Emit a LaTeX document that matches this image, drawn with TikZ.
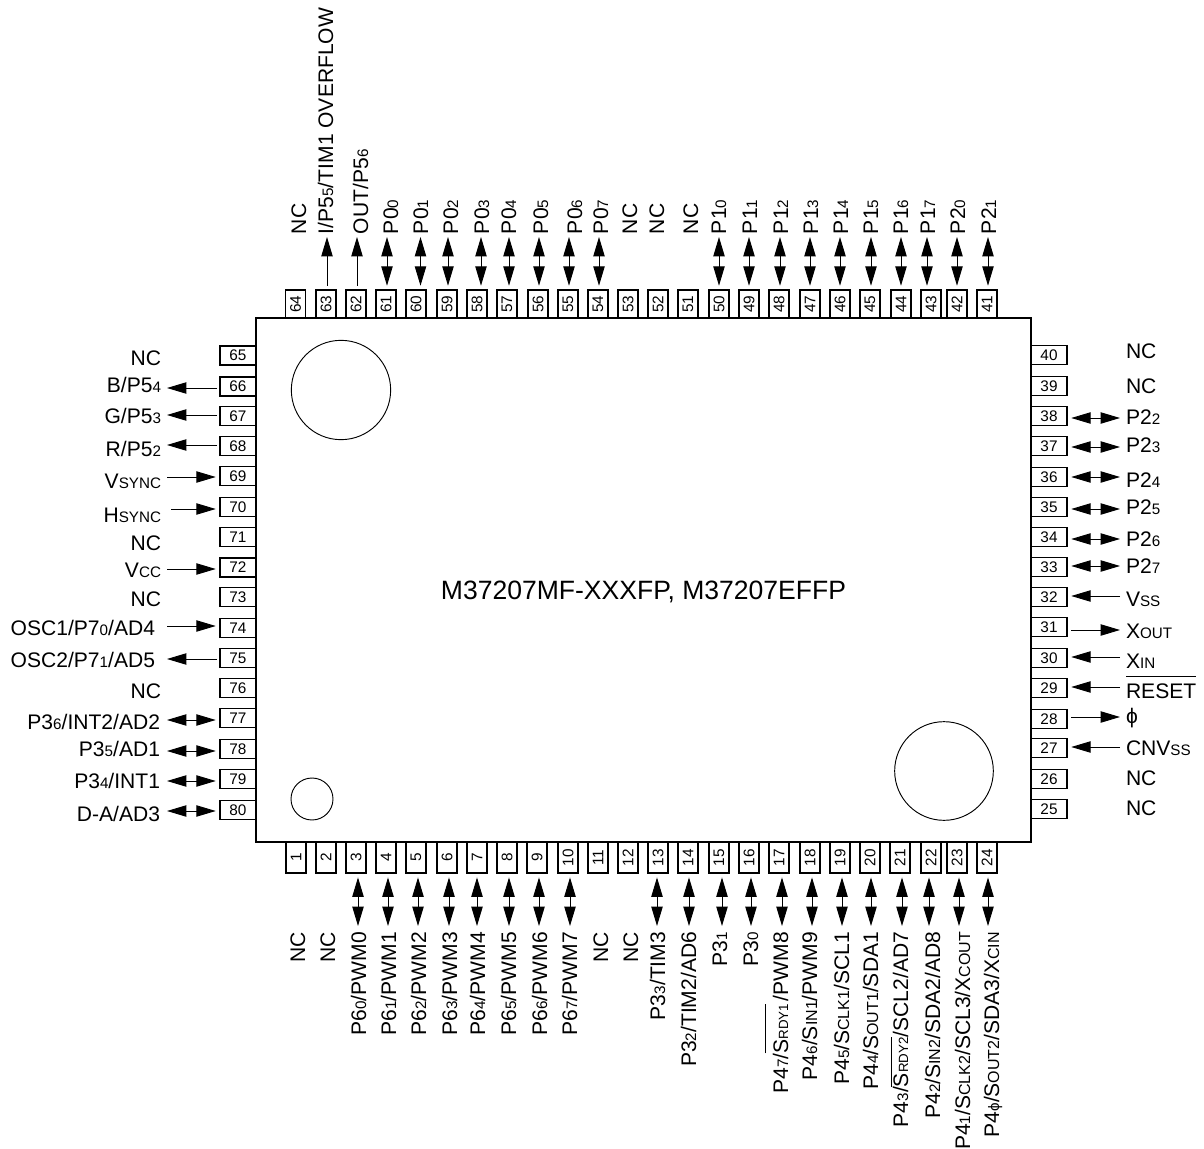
\documentclass[tikz,border=0pt]{standalone}
\usepackage{fontspec}
\usepackage{graphicx}
\setmainfont{Liberation Sans}
\usetikzlibrary{arrows.meta}
\newcommand{\sm}[1]{{\fontsize{11.4}{11.4}\selectfont #1}}
\newcommand{\smm}[1]{{\fontsize{10}{10}\selectfont #1}}
\newcommand{\smb}[1]{{\fontsize{12}{12}\selectfont #1}}
\newcommand{\ovbar}[2]{\setbox0\hbox{#2}\rlap{\rule[#1]{\wd0}{0.6pt}}\box0\relax}
\tikzset{
  x=0.75pt,y=-0.75pt,
  chip/.style={draw,line width=1.5pt,minimum width=581.25pt,minimum height=393pt,inner sep=0,outer sep=0},
  vpin/.style={draw,line width=1.2pt,fill=white,minimum width=15.2pt,minimum height=#1,inner sep=0,outer sep=0,font=\fontsize{11.5}{11.5}\selectfont},
  hpin/.style={draw,line width=1.2pt,fill=white,minimum width=27pt,minimum height=14.4pt,inner sep=0,outer sep=0,font=\fontsize{11.5}{11.5}\selectfont},
  sig/.style={inner sep=0,outer sep=0,font=\fontsize{15.8}{15.8}\selectfont},
  ltxt/.style={sig,anchor=base east},
  rtxt/.style={sig,anchor=base west},
  ttxt/.style={sig,rotate=90,anchor=base west},
  btxt/.style={sig,rotate=90,anchor=base east},
  hole/.style={draw,line width=0.7pt,circle,inner sep=0,outer sep=0},
  wire/.style={line width=0.7pt,shorten <=0pt,shorten >=3.2pt},
  dbl/.style={wire,{Triangle[length=14.5pt,width=8.5pt]}-{Triangle[length=14.5pt,width=8.5pt]}},
  fwd/.style={wire,-{Triangle[length=14.5pt,width=8.5pt]}}
}
\begin{document}
\begin{tikzpicture}
\useasboundingbox (0,0) rectangle (1204,1149);
\node[chip] (body) at (643.5,580) {};
\node[sig,anchor=base] (title) at (643.5,599) {\fontsize{19.9}{19.9}\selectfont M37207MF-XXXFP, M37207EFFP};
\node[hole,minimum size=74.5pt] (h1) at (341,390) {};
\node[hole,minimum size=31.5pt] (h2) at (312,799) {};
\node[hole,minimum size=74pt] (h3) at (944,771) {};
% top pins
\foreach \n/\x in {64/295.5,63/326,62/356,61/386,60/416,59/447,58/477,57/507,56/538,55/568,54/598,53/628,52/658,51/688,50/719,49/749,48/779,47/810,46/840,45/870,44/901,43/931,42/957,41/987}
  \node[vpin=21pt] (p\n) at (\x,304) {\rotatebox{90}{\n}};
% bottom pins
\foreach \n/\x in {1/296,2/326,3/356,4/386,5/416,6/447,7/477,8/507,9/537,10/568,11/598,12/628,13/658,14/688,15/719,16/749,17/779,18/810,19/840,20/870,21/900,22/931,23/957,24/987}
  \node[vpin=23.5pt] (p\n) at (\x,857.5) {\rotatebox{90}{\n}};
% left pins
\foreach \n/\y in {65/355.5,66/386.3,67/416,68/446,69/476,70/507,71/537,72/567.5,73/597,74/628,75/658,76/688,77/718,78/749,79/779,80/810}
  \node[hpin] (p\n) at (238,\y) {\n};
% right pins
\foreach \n/\y in {40/355,39/386,38/416,37/446,36/477,35/507,34/537,33/567,32/597,31/627,30/658,29/688,28/719,27/748,26/779,25/809}
  \node[hpin] (p\n) at (1049,\y) {\n};
% connectors: top
\foreach \n/\x in {61/387,60/420.5,59/448,58/481,57/509,56/539,55/569,54/599,50/719,49/749,48/780,47/810,46/840,45/871,44/901,43/927,42/957,41/988}{
  \coordinate (e\n) at (\x,237);
  \draw[dbl] (e\n) -- (e\n |- p\n.north);
}
\foreach \n/\x in {63/327,62/357}{
  \coordinate (e\n) at (\x,237);
  \draw[fwd,shorten <=3.2pt,shorten >=0pt] (e\n |- p\n.north) -- (e\n);
}
% connectors: bottom
\foreach \n/\x in {3/358,4/388,5/418,6/449,7/477,8/509,9/539,10/570,13/657,14/689,15/722,16/751,17/782,18/812,19/842,20/871,21/902,22/929,23/959,24/988}{
  \coordinate (e\n) at (\x,926);
  \draw[dbl] (e\n) -- (e\n |- p\n.south);
}
% connectors: left
\foreach \n/\y in {77/720,78/751,79/781,80/811}{
  \coordinate (e\n) at (167,\y);
  \draw[dbl] (e\n) -- (e\n -| p\n.west);
}
\foreach \n/\y in {66/388,67/415,68/445,75/659}{
  \coordinate (e\n) at (167,\y);
  \draw[fwd,shorten <=2.2pt,shorten >=0pt] (e\n -| p\n.west) -- (e\n);
}
\foreach \n/\y/\s in {69/477/167,70/509/171,72/569/167,74/626/167}{
  \coordinate (e\n) at (\s,\y);
  \draw[fwd] (e\n) -- (e\n -| p\n.west);
}
% connectors: right
\foreach \n/\y in {38/418,37/447,36/477,35/509,34/539,33/566}{
  \coordinate (e\n) at (1120,\y);
  \draw[dbl] (e\n) -- (e\n -| p\n.east);
}
\foreach \n/\y in {32/596,30/657,29/687,27/747}{
  \coordinate (e\n) at (1120,\y);
  \draw[fwd] (e\n) -- (e\n -| p\n.east);
}
\foreach \n/\y in {31/630,28/717}{
  \coordinate (e\n) at (1120,\y);
  \draw[fwd,shorten <=3.2pt,shorten >=0pt] (e\n -| p\n.east) -- (e\n);
}
% labels: top
\node[ttxt] (t64) at (306,234) {NC};
\node[ttxt] (t63) at (333,234) {I/P5\sm{5}/TIM1 OVERFLOW};
\node[ttxt] (t62) at (368,234) {OUT/P5\sm{6}};
\node[ttxt] (t61) at (398,234) {P0\sm{0}};
\node[ttxt] (t60) at (428,234) {P0\sm{1}};
\node[ttxt] (t59) at (458,234) {P0\sm{2}};
\node[ttxt] (t58) at (489,234) {P0\sm{3}};
\node[ttxt] (t57) at (516,234) {P0\sm{4}};
\node[ttxt] (t56) at (548,234) {P0\sm{5}};
\node[ttxt] (t55) at (582,234) {P0\sm{6}};
\node[ttxt] (t54) at (608,234) {P0\sm{7}};
\node[ttxt] (t53) at (637,234) {NC};
\node[ttxt] (t52) at (664,234) {NC};
\node[ttxt] (t51) at (698,234) {NC};
\node[ttxt] (t50) at (726,234) {P1\sm{0}};
\node[ttxt] (t49) at (757,234) {P1\sm{1}};
\node[ttxt] (t48) at (788,234) {P1\sm{2}};
\node[ttxt] (t47) at (818,234) {P1\sm{3}};
\node[ttxt] (t46) at (848,234) {P1\sm{4}};
\node[ttxt] (t45) at (878,234) {P1\sm{5}};
\node[ttxt] (t44) at (908,234) {P1\sm{6}};
\node[ttxt] (t43) at (935,234) {P1\sm{7}};
\node[ttxt] (t42) at (965,234) {P2\sm{0}};
\node[ttxt] (t41) at (996,234) {P2\sm{1}};
% labels: bottom
\node[btxt] (t1) at (305,932) {NC};
\node[btxt] (t2) at (335,932) {NC};
\node[btxt] (t3) at (366,932) {P6\sm{0}/PWM0};
\node[btxt] (t4) at (396,932) {P6\sm{1}/PWM1};
\node[btxt] (t5) at (426,932) {P6\sm{2}/PWM2};
\node[btxt] (t6) at (457,932) {P6\sm{3}/PWM3};
\node[btxt] (t7) at (485,932) {P6\sm{4}/PWM4};
\node[btxt] (t8) at (516,932) {P6\sm{5}/PWM5};
\node[btxt] (t9) at (547,932) {P6\sm{6}/PWM6};
\node[btxt] (t10) at (577,932) {P6\sm{7}/PWM7};
\node[btxt] (t11) at (608,932) {NC};
\node[btxt] (t12) at (638,932) {NC};
\node[btxt] (t13) at (665,932) {P3\sm{3}/TIM3};
\node[btxt] (t14) at (696,932) {P3\sm{2}/TIM2/AD6};
\node[btxt] (t15) at (727,932) {P3\sm{1}};
\node[btxt] (t16) at (758,932) {P3\sm{0}};
\node[btxt] (t17) at (788,932) {P4\sm{7}/\ovbar{16.5pt}{S\smm{RDY1}}\kern2pt/PWM8};
\node[btxt] (t18) at (817,932) {P4\sm{6}/S\smb{IN1}/PWM9};
\node[btxt] (t19) at (849,932) {P4\sm{5}/S\smb{CLK1}/SCL1};
\node[btxt] (t20) at (878,932) {P4\sm{4}/S\smb{OUT1}/SDA1};
\node[btxt] (t21) at (908,932) {P4\sm{3}/\ovbar{12.5pt}{S\smm{RDY2}}/SCL2/AD7};
\node[btxt] (t22) at (940,932) {P4\sm{2}/S\smb{IN2}/SDA2/AD8};
\node[btxt] (t23) at (970,932) {P4\sm{1}/S\smb{CLK2}/SCL3/X\smb{COUT}};
\node[btxt] (t24) at (999,932) {P4\sm{ϕ}/S\smb{OUT2}/SDA3/X\smb{CIN}};
% labels: left
\node[ltxt] (t65) at (161,365) {NC};
\node[ltxt] (t66) at (161,392) {B/P5\sm{4}};
\node[ltxt] (t67) at (161,423) {G/P5\sm{3}};
\node[ltxt] (t68) at (161,456) {R/P5\sm{2}};
\node[ltxt] (t69) at (161,488) {V\sm{SYNC}};
\node[ltxt] (t70) at (161,522) {H\sm{SYNC}};
\node[ltxt] (t71) at (161,550) {NC};
\node[ltxt] (t72) at (161,577) {V\sm{CC}};
\node[ltxt] (t73) at (161,606) {NC};
\node[ltxt] (t74) at (155,635) {OSC1/P7\sm{0}/AD4};
\node[ltxt] (t75) at (155,667) {OSC2/P7\sm{1}/AD5};
\node[ltxt] (t76) at (161,698) {NC};
\node[ltxt] (t77) at (160,729) {P3\sm{6}/INT2/AD2};
\node[ltxt] (t78) at (160,756) {P3\sm{5}/AD1};
\node[ltxt] (t79) at (160,788) {P3\sm{4}/INT1};
\node[ltxt] (t80) at (160,821) {D-A/AD3};
% labels: right
\node[rtxt] (t40) at (1126,358) {NC};
\node[rtxt] (t39) at (1126,393) {NC};
\node[rtxt] (t38) at (1126,424) {P2\sm{2}};
\node[rtxt] (t37) at (1126,452) {P2\sm{3}};
\node[rtxt] (t36) at (1126,487) {P2\sm{4}};
\node[rtxt] (t35) at (1126,514) {P2\sm{5}};
\node[rtxt] (t34) at (1126,546) {P2\sm{6}};
\node[rtxt] (t33) at (1126,573) {P2\sm{7}};
\node[rtxt] (t32) at (1126,606) {V\sm{SS}};
\node[rtxt] (t31) at (1126,638) {X\sm{OUT}};
\node[rtxt] (t30) at (1126,668) {X\sm{IN}};
\node[rtxt] (t29) at (1126,698) {\ovbar{15.8pt}{RESET}};
\node[rtxt] (t28) at (1126,723) {ϕ};
\node[rtxt] (t27) at (1126,755) {CNV\sm{SS}};
\node[rtxt] (t26) at (1126,785) {NC};
\node[rtxt] (t25) at (1126,815) {NC};
\end{tikzpicture}
\end{document}
